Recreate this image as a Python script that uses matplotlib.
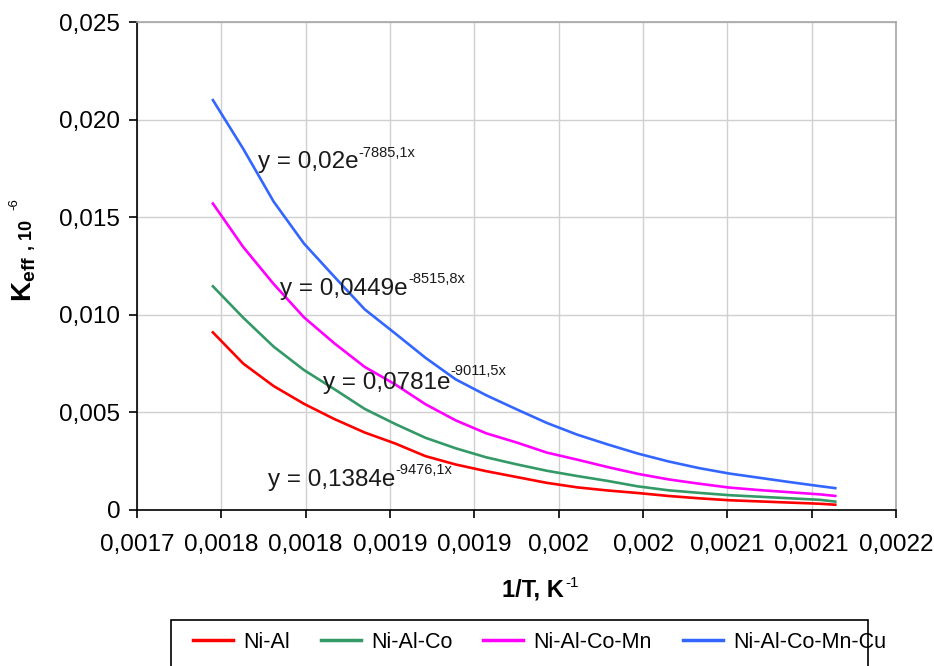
import numpy as np
import matplotlib
matplotlib.use('Agg')
import matplotlib.pyplot as plt
from matplotlib.lines import Line2D
from matplotlib.patches import Rectangle

plt.rcParams['font.family'] = ['Liberation Sans', 'DejaVu Sans']
plt.rcParams['mathtext.fontset'] = 'custom'
plt.rcParams['mathtext.rm'] = 'Liberation Sans'
plt.rcParams['mathtext.it'] = 'Liberation Sans:italic'
plt.rcParams['mathtext.bf'] = 'Liberation Sans:bold'

# 1/T, K^-1
inv_T = [0.00175, 0.00177, 0.00179, 0.00181, 0.00183, 0.00185, 0.00187, 0.00189,
         0.00191, 0.00193, 0.00195, 0.00197, 0.00199, 0.00201, 0.00203, 0.00205,
         0.00207, 0.00209, 0.00211, 0.00213, 0.00215, 0.00216]

# K_eff values (units of 1e-3 on the axis)
k_ni_al = [9.10, 7.50, 6.35, 5.44, 4.66, 3.97, 3.41, 2.76, 2.33, 1.99, 1.69,
           1.39, 1.16, 1.00, 0.87, 0.72, 0.60, 0.50, 0.44, 0.38, 0.32, 0.27]
k_ni_al_co = [11.46, 9.85, 8.37, 7.17, 6.19, 5.18, 4.41, 3.70, 3.16, 2.70, 2.34,
              2.01, 1.74, 1.49, 1.21, 1.01, 0.88, 0.76, 0.68, 0.60, 0.52, 0.43]
k_ni_al_co_mn = [15.70, 13.47, 11.58, 9.87, 8.54, 7.33, 6.44, 5.42, 4.59, 3.93, 3.46,
                 2.94, 2.58, 2.20, 1.85, 1.57, 1.35, 1.15, 1.02, 0.91, 0.80, 0.72]
k_ni_al_co_mn_cu = [21.00, 18.50, 15.80, 13.65, 11.95, 10.28, 9.05, 7.80, 6.69, 5.88, 5.16,
                    4.46, 3.86, 3.36, 2.89, 2.49, 2.15, 1.87, 1.65, 1.43, 1.22, 1.12]

series_names = ['Ni-Al', 'Ni-Al-Co', 'Ni-Al-Co-Mn', 'Ni-Al-Co-Mn-Cu']
series_colors = ['#ff0000', '#339966', '#ff00ff', '#3366ff']

# trendline labels: (main text, exponent)
fit_labels = [('y = 0,02e', '-7885,1x'),
              ('y = 0,0449e', '-8515,8x'),
              ('y = 0,0781e', '-9011,5x'),
              ('y = 0,1384e', '-9476,1x')]

x_tick_labels = ['0,0017', '0,0018', '0,0018', '0,0019', '0,0019',
                 '0,002', '0,002', '0,0021', '0,0021', '0,0022']
y_tick_labels = ['0', '0,005', '0,010', '0,015', '0,020', '0,025']

W, H = 934, 666
fig = plt.figure(figsize=(W / 100, H / 100), dpi=100)


def fx(px):
    return px / W


def fy(py):
    return 1 - py / H


ax = fig.add_axes([fx(137), fy(510), fx(896 - 137), (510 - 22) / H])

all_series = [k_ni_al, k_ni_al_co, k_ni_al_co_mn, k_ni_al_co_mn_cu]
x = np.array(inv_T)
for vals, name, col in zip(all_series, series_names, series_colors):
    ax.plot(x, np.array(vals) * 1e-3, color=col, lw=1.9, label=name)

ax.set_xlim(0.0017, 0.0022)
ax.set_ylim(0, 0.025)
ax.set_xticks(np.linspace(0.0017, 0.0022, len(x_tick_labels)))
ax.set_xticklabels(x_tick_labels)
ax.set_yticks(np.linspace(0, 0.025, len(y_tick_labels)))
ax.set_yticklabels(y_tick_labels)

ax.grid(True, color='#d0d0d0', lw=1)
ax.set_axisbelow(True)
for side in ['top', 'right']:
    ax.spines[side].set_color('#a6a6a6')
    ax.spines[side].set_linewidth(1.2)
for side in ['left', 'bottom']:
    ax.spines[side].set_color('black')
    ax.spines[side].set_linewidth(1.2)

ax.tick_params(direction='out', length=6, width=1.2, labelsize=17.5, colors='black')
ax.tick_params(axis='x', pad=11.5)
ax.tick_params(axis='y', pad=6)

# x axis label, superscript as separate text so it keeps a plain hyphen
fig.text(fx(502), fy(597), '1/T, K', ha='left', va='baseline',
         fontsize=17, fontweight='bold')
fig.text(fx(565), fy(587), '-1', ha='left', va='baseline', fontsize=11)

# y axis label pieces
fig.text(fx(37.5), fy(302), r'$\mathbf{K_{eff}}$', rotation=90, ha='right',
         va='bottom', fontsize=20)
fig.text(fx(36), fy(250), ', 10', rotation=90, ha='right',
         va='bottom', fontsize=13, fontweight='bold')
fig.text(fx(20), fy(210), '-6', rotation=90, ha='right',
         va='bottom', fontsize=9.5)

# trendline equations
label_pos = [(258, 168, 358, 157), (280, 295, 408, 283),
             (323, 389, 450, 375), (268, 486, 395, 474)]
for (main, expo), (mx, my, ex, ey) in zip(fit_labels, label_pos):
    fig.text(fx(mx), fy(my), main, fontsize=17.5, va='baseline', ha='left', color='#1a1a1a')
    fig.text(fx(ex), fy(ey), expo, fontsize=10.5, va='baseline', ha='left', color='#1a1a1a')

# legend
handles = [Line2D([], [], color=c, lw=2.5) for c in series_colors]
fig.legend(handles, series_names, loc='center left',
           bbox_to_anchor=(fx(182), fy(642)), ncol=4, frameon=False,
           borderpad=0, handlelength=1.86, handletextpad=0.47,
           columnspacing=1.44, fontsize=15.5)
fig.add_artist(Rectangle((fx(170.7), fy(672)), fx(867.7 - 170.7), (672 - 620) / H,
                         transform=fig.transFigure, fill=False, ec='black',
                         lw=1.2, clip_on=False))

fig.savefig('out.png', dpi=100)
